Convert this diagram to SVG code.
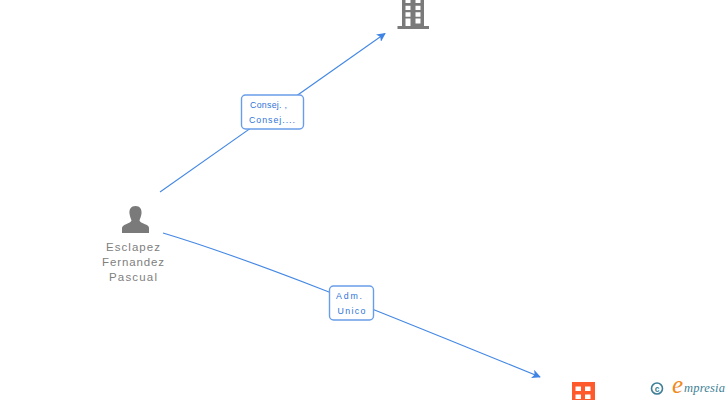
<svg xmlns="http://www.w3.org/2000/svg" width="728" height="400" viewBox="0 0 728 400">
<style>
.conn{fill:none;stroke:#4488e4;stroke-width:1.1}
.lab{fill:#fff;stroke:#6a9de8;stroke-width:1.4}
.lt{font:8.800px "Liberation Sans",Arial,sans-serif;fill:#2f74d8;text-anchor:middle}
.nt{font:11.500px "Liberation Sans",Arial,sans-serif;fill:#808080;text-anchor:middle}
.ic{fill:#7a7a7a}
</style>
<defs>
<marker id="arr" viewBox="0 0 10 10" refX="9" refY="5" markerWidth="9" markerHeight="9" orient="auto" markerUnits="userSpaceOnUse">
<path d="M0 0L10 5L0 10L2.500 5Z" fill="#3f84e4"/>
</marker>
</defs>
<g id="connectors">
<path class="conn" d="M160 192L385 33.500" marker-end="url(#arr)"/>
<path class="conn" d="M163 233C260 262 400 320 540 377" marker-end="url(#arr)"/>
</g>
<g id="node-building">
<path class="ic" fill-rule="evenodd" d="M402 0H424V26H429V29H397.500V26H402ZM405.500 0V3H410.500V0ZM415.500 0V3H420.500V0ZM405.500 5.700V10H410.500V5.700ZM415.500 5.700V10H420.500V5.700ZM405.500 12.300V16.700H410.500V12.300ZM415.500 12.300V16.700H420.500V12.300ZM405.500 18.500V26H410.500V18.500ZM415.500 18.500V23.500H420.500V18.500Z"/>
</g>
<g id="node-person">
<path class="ic" d="M135.500 206C140 206 142 209.500 141.500 213.500C141.200 216.500 140 218.500 139.500 220.500C139.800 222 142 223 145 224.200C148 225.300 149 226.500 149 228V233H122V228C122 226.500 123.500 225.300 126 224.200C129 223 131.200 222 131.500 220.500C131 218.500 129.800 216.500 129.500 213.500C129 209.500 131 206 135.500 206Z"/>
<text class="nt" x="133" y="251" textLength="54">Esclapez</text>
<text class="nt" x="133" y="266" textLength="62">Fernandez</text>
<text class="nt" x="133" y="281" textLength="48">Pascual</text>
</g>
<g id="label-consej">
<rect class="lab" x="241.500" y="95" width="62" height="34" rx="4"/>
<text class="lt" x="268.500" y="108" textLength="37">Consej. ,</text>
<text class="lt" x="272" y="123" textLength="46">Consej....</text>
</g>
<g id="label-adm">
<rect class="lab" x="329.500" y="286" width="44" height="34" rx="4"/>
<text class="lt" x="349" y="299" textLength="26">Adm.</text>
<text class="lt" x="351.500" y="314" textLength="28">Unico</text>
</g>
<g id="node-orange">
<path fill="#ff5a2c" fill-rule="evenodd" d="M572 382H595V400H572ZM575.500 386.500V391H581V386.500ZM585 386.500V391H590.500V386.500ZM575.500 394.500V399H581V394.500ZM585 394.500V399H590.500V394.500Z"/>
</g>
<g id="logo">
<circle cx="657" cy="388.500" r="5.500" fill="none" stroke="#3d7f96" stroke-width="1.600"/>
<text x="657" y="391.500" font-family="Liberation Sans,sans-serif" font-size="8.500" font-weight="bold" fill="#3d7f96" text-anchor="middle">c</text>
<text x="672" y="393" font-family="Liberation Serif,serif" font-style="italic" font-size="25" fill="#f08a1d">e</text>
<text x="684" y="392" font-family="Liberation Serif,serif" font-style="italic" font-size="12.500" fill="#3d7f96" textLength="41">mpresia</text>
</g>
</svg>
